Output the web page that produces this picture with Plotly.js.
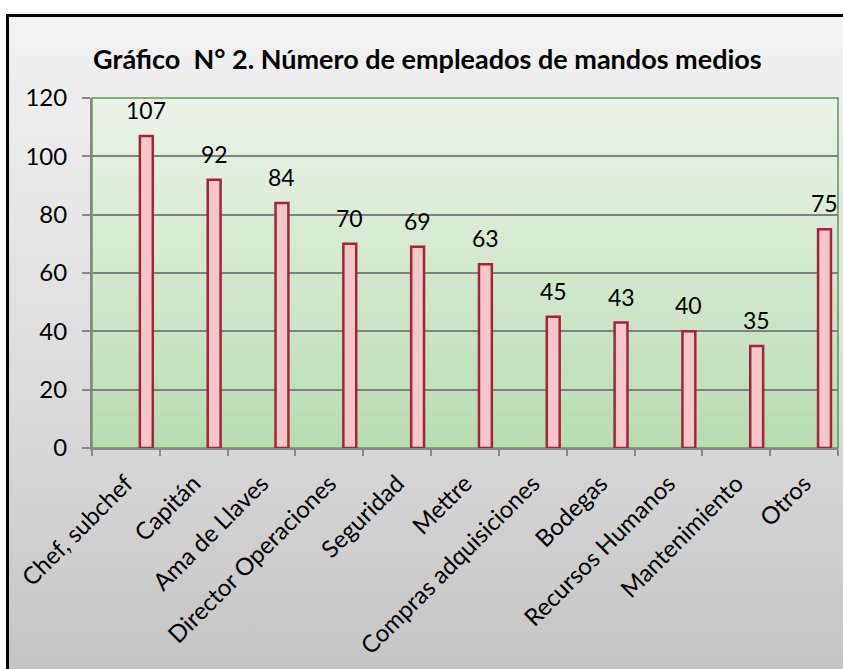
<!DOCTYPE html>
<html>
<head>
<meta charset="utf-8">
<script src="https://cdn.plot.ly/plotly-3.0.1.min.js"></script>
<style>
  html, body { margin: 0; padding: 0; background: #ffffff; width: 843px; height: 669px; overflow: hidden; }
  #frame { position: absolute; left: 6px; top: 14px; width: 850px; height: 670px; border: 3px solid #000;
           background: linear-gradient(to bottom, #f2f2f2 0%, #dcdcdc 55%, #c4c4c4 100%); box-sizing: border-box; }
  #chart { position: absolute; left: 0; top: 0; width: 843px; height: 669px; }
</style>
</head>
<body>
<div id="frame"></div>
<div id="chart"></div>
<script>
const categories = ["Chef, subchef", "Capitán", "Ama de Llaves", "Director Operaciones", "Seguridad", "Mettre",
                    "Compras adquisiciones", "Bodegas", "Recursos Humanos", "Mantenimiento", "Otros"];
const empleados = [107, 92, 84, 70, 69, 63, 45, 43, 40, 35, 75];
const yTicks = [0, 20, 40, 60, 80, 100, 120];
const chartTitle = "Gráfico  N° 2. Número de empleados de mandos medios";

const FONT = "Lato, 'Liberation Sans', Arial, sans-serif";
const BAR_W = 0.19, BAR_OFF = 0.206;

const bgSvg = '<svg xmlns="http://www.w3.org/2000/svg" width="10" height="100" preserveAspectRatio="none">' +
  '<defs><linearGradient id="g" x1="0" y1="0" x2="0" y2="1">' +
  '<stop offset="0" stop-color="#ebf4e9"/><stop offset="1" stop-color="#b8dcb2"/></linearGradient></defs>' +
  '<rect width="10" height="100" fill="url(#g)"/></svg>';
const bgUri = 'data:image/svg+xml;base64,' + btoa(bgSvg);

const trace = {
  type: 'bar',
  x: categories,
  y: empleados,
  width: categories.map(() => BAR_W),
  offset: categories.map(() => BAR_OFF),
  marker: { color: '#f5c7ca', line: { color: '#a3243b', width: 2.5 } },
  hoverinfo: 'x+y'
};

const annotations = empleados.map((v, i) => ({
  x: i + BAR_OFF + BAR_W / 2, y: v, xref: 'x', yref: 'y',
  text: String(v), showarrow: false, yanchor: 'middle', yshift: 26,
  font: { family: FONT, size: 23, color: '#000' }
}));

const layout = {
  width: 843, height: 669,
  margin: { l: 92, r: 5, t: 98, b: 221 },
  paper_bgcolor: 'rgba(0,0,0,0)',
  plot_bgcolor: 'rgba(0,0,0,0)',
  showlegend: false,
  title: { text: '<b>' + chartTitle + '</b>', x: 0.507, xref: 'container', xanchor: 'center',
           y: 1 - 60 / 669, yref: 'container', yanchor: 'middle',
           font: { family: FONT, size: 27, color: '#000' } },
  xaxis: {
    type: 'category', categoryorder: 'array', categoryarray: categories,
    range: [-0.5, categories.length - 0.5],
    tickangle: -45, tickson: 'boundaries', ticks: 'outside', ticklen: 6, tickcolor: '#888', tickwidth: 2,
    showline: true, linecolor: '#888', linewidth: 2, showgrid: false, ticklabelstandoff: 10,
    tickfont: { family: FONT, size: 24, color: '#000' }
  },
  yaxis: {
    range: [0, 120], tickvals: yTicks, ticks: 'outside', ticklen: 8, tickcolor: '#888', tickwidth: 2,
    showline: true, linecolor: '#888', linewidth: 2, showgrid: true, gridcolor: '#808080', gridwidth: 2,
    zeroline: false, ticklabelstandoff: 10,
    tickfont: { family: FONT, size: 24, color: '#000' }
  },
  images: [{ source: bgUri, xref: 'paper', yref: 'paper', x: 0, y: 1, sizex: 1, sizey: 1,
             sizing: 'stretch', layer: 'below', xanchor: 'left', yanchor: 'top' }],
  shapes: [{ type: 'rect', xref: 'paper', yref: 'paper', x0: 0, x1: 1, y0: 0, y1: 1,
             line: { color: '#5e9a48', width: 1.5 }, layer: 'below' }],
  annotations: annotations
};

Plotly.newPlot('chart', [trace], layout, { displayModeBar: false, staticPlot: true });
</script>
</body>
</html>
